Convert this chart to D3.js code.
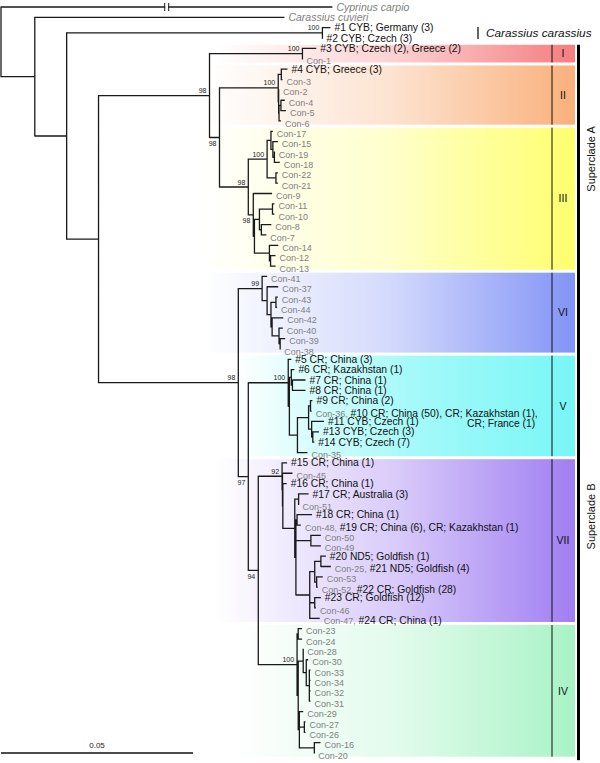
<!DOCTYPE html>
<html><head><meta charset="utf-8">
<script src="https://cdn.jsdelivr.net/npm/d3@7"></script>
<style>body{margin:0;background:#fff}svg{display:block;font-family:"Liberation Sans",Arial,Helvetica,sans-serif}</style>
</head><body><svg id="c" width="600" height="763"></svg>
<script>
// ---- tree data: [node, parent, branch length (subst./site)] ----
const outgroupEdges = [
  ["root", "", 0],
  ["Cyprinus carpio", "root", 0.0863],
  ["nA", "root", 0.0088],
  ["Carassius cuvieri", "nA", 0.065],
  ["nB", "nA", 0.0083],
  ["nCC", "nB", 0.0666],
  ["#1", "nCC", 0.0021],
  ["#2", "nCC", 0],
  ["nC", "nB", 0.0083],
  ["nD", "nC", 0.0289]
];
const cladeIEdges = [
  ["nI", "nD", 0.0242],
  ["#3", "nI", 0.0036],
  ["Con-1", "nI", 0]
];
const cladeIIEdges = [
  ["nF", "nD", 0.0026],
  ["nG", "nF", 0.0153],
  ["nG1", "nG", 0.0008],
  ["#4", "nG1", 0.0016],
  ["Con-3", "nG1", 0.0003],
  ["nGp", "nG", 0.0001],
  ["Con-2", "nGp", 0.0001],
  ["nGpp", "nGp", 0.0001],
  ["nG2", "nGpp", 0.0005],
  ["Con-4", "nG2", 0.001],
  ["Con-5", "nG2", 0.0013],
  ["Con-6", "nGpp", 0.0005]
];
const cladeIIIEdges = [
  ["nH", "nF", 0.0075],
  ["nP", "nH", 0.0049],
  ["nP1", "nP", 0.001],
  ["Con-17", "nP1", 0.0005],
  ["nP2", "nP1", 0.0005],
  ["Con-15", "nP2", 0.0013],
  ["nP2b", "nP2", 0.0004],
  ["Con-19", "nP2b", 0.0001],
  ["Con-18", "nP2b", 0.0014],
  ["nP3", "nP", 0.0023],
  ["Con-22", "nP3", 0.0005],
  ["Con-21", "nP3", 0.0005],
  ["nQ", "nH", 0.0013],
  ["Con-9", "nQ", 0.0049],
  ["nR", "nQ", 0.0003],
  ["nS", "nR", 0.0013],
  ["nS1", "nS", 0.0034],
  ["Con-11", "nS1", 0.0005],
  ["Con-10", "nS1", 0.0005],
  ["nS2", "nS", 0.0005],
  ["Con-8", "nS2", 0.0026],
  ["Con-7", "nS2", 0.0013],
  ["nT", "nR", 0.0039],
  ["Con-14", "nT", 0.0023],
  ["nT1", "nT", 0.0003],
  ["Con-12", "nT1", 0.0013],
  ["Con-13", "nT1", 0.0013]
];
const cladeVIEdges = [
  ["nU", "nC", 0.0364],
  ["nVI", "nU", 0.0062],
  ["Con-41", "nVI", 0.0013],
  ["nVIa", "nVI", 0.0013],
  ["Con-37", "nVIa", 0.0029],
  ["nVIb", "nVIa", 0.001],
  ["nVIc", "nVIb", 0.0013],
  ["Con-43", "nVIc", 0.0005],
  ["Con-44", "nVIc", 0.0003],
  ["nVId", "nVIb", 0.0003],
  ["Con-42", "nVId", 0.0029],
  ["nVIe", "nVId", 0.0018],
  ["Con-40", "nVIe", 0.001],
  ["nVIf", "nVIe", 0.0003],
  ["Con-39", "nVIf", 0.0013],
  ["Con-38", "nVIf", 0]
];
const cladeVEdges = [
  ["nW", "nU", 0.0026],
  ["nV", "nW", 0.0104],
  ["#5", "nV", 0.0008],
  ["nV2", "nV", 0.0003],
  ["nVa", "nV2", 0.0005],
  ["#6", "nVa", 0.0008],
  ["nVb", "nVa", 0.0003],
  ["#7", "nVb", 0.0034],
  ["#8", "nVb", 0.0034],
  ["nVc", "nV2", 0.0021],
  ["nVg", "nVc", 0.0029],
  ["nVd", "nVg", 0.0005],
  ["#9", "nVd", 0.0005],
  ["Con-36", "nVd", 0.0003],
  ["nVe", "nVg", 0.0008],
  ["#11", "nVe", 0.0032],
  ["nVf", "nVe", 0.0003],
  ["#13", "nVf", 0.0016],
  ["#14", "nVf", 0.0004],
  ["Con-35", "nVc", 0.0026]
];
const cladeVIIEdges = [
  ["nX", "nW", 0.0026],
  ["nVII", "nX", 0.0062],
  ["#15", "nVII", 0.0013],
  ["nY7", "nVII", 0.0001],
  ["Con-45", "nY7", 0.0026],
  ["nZ7", "nY7", 0.0001],
  ["#16", "nZ7", 0.001],
  ["nR7", "nZ7", 0.0031],
  ["nVIIc", "nR7", 0.001],
  ["#17", "nVIIc", 0.0026],
  ["Con-51", "nVIIc", 0],
  ["nVIId", "nR7", 0.0003],
  ["nVIIe", "nVIId", 0.0003],
  ["#18", "nVIIe", 0.0039],
  ["Con-48", "nVIIe", 0.001],
  ["nVIIg", "nVIId", 0.0039],
  ["Con-50", "nVIIg", 0.0026],
  ["Con-49", "nVIIg", 0.0026],
  ["nVIIk", "nVIId", 0.0036],
  ["nN1", "nVIIk", 0.0013],
  ["nN2", "nN1", 0.0016],
  ["#20", "nN2", 0.0013],
  ["Con-25", "nN2", 0.0026],
  ["nN3", "nN1", 0.0005],
  ["Con-53", "nN3", 0.0016],
  ["Con-52", "nN3", 0.0003],
  ["nVIIl", "nVIIk", 0.0013],
  ["#23", "nVIIl", 0.0016],
  ["Con-46", "nVIIl", 0.0003],
  ["Con-47", "nVIIk", 0.0026]
];
const cladeIVEdges = [
  ["nIV", "nX", 0.0101],
  ["nIVa", "nIV", 0.0003],
  ["Con-23", "nIVa", 0.001],
  ["Con-24", "nIVa", 0.001],
  ["nIVb", "nIV", 0.0003],
  ["nIVc", "nIVb", 0.0013],
  ["Con-28", "nIVc", 0],
  ["nIVe", "nIVc", 0.0008],
  ["Con-30", "nIVe", 0.0005],
  ["nIVf", "nIVe", 0.0008],
  ["Con-33", "nIVf", 0.0003],
  ["Con-34", "nIVf", 0.0003],
  ["Con-32", "nIVf", 0.0003],
  ["Con-31", "nIVf", 0.0003],
  ["nIVd", "nIVb", 0.0003],
  ["Con-29", "nIVd", 0.001],
  ["nIVg", "nIVd", 0.0013],
  ["Con-27", "nIVg", 0.0003],
  ["Con-26", "nIVg", 0.0003],
  ["nIVh", "nIVd", 0.0039],
  ["Con-16", "nIVh", 0.0016],
  ["Con-20", "nIVh", 0]
];

// bootstrap support
const supportNodes  = ["nCC","nI","nD","nG","nF","nP","nH","nQ","nVI","nU","nV","nW","nVII","nX","nIV"];
const supportValues = [100, 100, 98, 100, 98, 100, 98, 98, 99, 98, 100, 97, 92, 94, 100];

// haplotype labels (black text)
const haplotypeTips = ["#1","#2","#3","#4","#5","#6","#7","#8","#9","Con-36","#11","#13","#14",
  "#15","#16","#17","#18","Con-48","#20","Con-25","Con-52","#23","Con-47"];
const haplotypeText = ["#1 CYB; Germany (3)","#2 CYB; Czech (3)","#3 CYB; Czech (2), Greece (2)",
  "#4 CYB; Greece (3)","#5 CR; China (3)","#6 CR; Kazakhstan (1)","#7 CR; China (1)","#8 CR; China (1)",
  "#9 CR; China (2)","#10 CR; China (50), CR; Kazakhstan (1),","#11 CYB; Czech (1)","#13 CYB; Czech (3)",
  "#14 CYB; Czech (7)","#15 CR; China (1)","#16 CR; China (1)","#17 CR; Australia (3)","#18 CR; China (1)",
  "#19 CR; China (6), CR; Kazakhstan (1)","#20 ND5; Goldfish (1)","#21 ND5; Goldfish (4)",
  "#22 CR; Goldfish (28)","#23 CR; Goldfish (12)","#24 CR; China (1)"];
const continuedTip = ["Con-36"];
const continuedText = ["CR; France (1)"];
const outgroupTips = ["Cyprinus carpio","Carassius cuvieri"];

// clades
const cladeNames = ["I","II","III","VI","V","VII","IV"];
const cladeFirstTip = ["#3","#4","Con-17","Con-41","#5","#15","Con-23"];
const cladeLastTip  = ["Con-1","Con-6","Con-13","Con-38","Con-35","Con-47","Con-20"];
const supercladeNames = ["Superclade A","Superclade B"];
const supercladeFirst = ["#3","Con-41"];
const supercladeLast  = ["Con-13","Con-20"];
const speciesName = "Carassius carassius";
const speciesTips = ["#1","#2"];
const scaleBarValue = 0.05;

// ---- styles ----
const cladeColor = {I:"#f57d7f", II:"#f9b07b", III:"#ffff6e", VI:"#8294f6", V:"#78f6f6", VII:"#a07ef2", IV:"#a8f3c6"};
const cladeMidStop = {I:0.35, II:0.35, III:0.35, VI:0.35, V:0.65, VII:0.4, IV:0.35};
const bandLeft = {I:215, II:205, III:200, VI:205, V:235, VII:215, IV:230};
const bandRight = 575, midLineX = 552, romanX = 563;
const belowSupport = new Set(["nF","nQ","nW","nX"]);
const GRAY = "#808080";

const svg = d3.select("#c");
const edges = [].concat(outgroupEdges, cladeIEdges, cladeIIEdges, cladeIIIEdges,
  cladeVIEdges, cladeVEdges, cladeVIIEdges, cladeIVEdges);
const root = d3.stratify().id(d => d[0]).parentId(d => d[1] || null)(edges);
root.eachBefore(n => { n.dist = n.parent ? n.parent.dist + n.data[2] : 0; });
const leaves = root.leaves();
const xScale = d3.scaleLinear().domain([0, scaleBarValue]).range([1, 193]);
const yScale = d3.scalePoint().domain(leaves.map(d => d.id)).range([7, 753]);
const step = yScale.step();
root.eachAfter(n => {
  n.x = xScale(n.dist);
  n.y = n.children ? (n.children[0].y + n.children[n.children.length - 1].y) / 2 : yScale(n.id);
});
const byId = new Map(root.descendants().map(n => [n.id, n]));

// ---- gradient bands ----
const defs = svg.append("defs");
cladeNames.forEach((c, i) => {
  const g = defs.append("linearGradient").attr("id", "g" + i).attr("x1", 0).attr("x2", 1).attr("y1", 0).attr("y2", 0);
  g.append("stop").attr("offset", 0).attr("stop-color", cladeColor[c]).attr("stop-opacity", 0);
  g.append("stop").attr("offset", 0.5).attr("stop-color", cladeColor[c]).attr("stop-opacity", cladeMidStop[c]);
  g.append("stop").attr("offset", 1).attr("stop-color", cladeColor[c]).attr("stop-opacity", 1);
});
const bands = svg.append("g");
cladeNames.forEach((c, i) => {
  const top = yScale(cladeFirstTip[i]) - step / 2 + 1.5;
  const bot = yScale(cladeLastTip[i]) + step / 2 - 1.5;
  bands.append("rect").attr("x", bandLeft[c]).attr("y", top).attr("width", bandRight - bandLeft[c])
    .attr("height", bot - top).attr("fill", `url(#g${i})`);
  bands.append("line").attr("x1", midLineX).attr("x2", midLineX).attr("y1", top).attr("y2", bot)
    .attr("stroke", "#111").attr("stroke-width", 1);
  bands.append("text").attr("x", romanX).attr("y", (top + bot) / 2).attr("dy", "0.35em")
    .attr("text-anchor", "middle").attr("font-size", 10.5).attr("fill", "#111").text(c);
});
// superclade bars
supercladeNames.forEach((s, i) => {
  const top = yScale(supercladeFirst[i]) - step / 2 + 1.5;
  const bot = yScale(supercladeLast[i]) + step / 2 + 2;
  svg.append("rect").attr("x", 577).attr("y", top).attr("width", 3).attr("height", bot - top).attr("fill", "#000");
  const cy = (top + bot) / 2;
  svg.append("text").attr("transform", `translate(591,${cy}) rotate(-90)`).attr("dy", "0.35em")
    .attr("text-anchor", "middle").attr("font-size", 11).attr("fill", "#111").text(s);
});

// ---- branches ----
let d = "";
root.descendants().forEach(n => {
  if (n.parent) d += `M${n.parent.x},${n.y}H${n.x}`;
  if (n.children) d += `M${n.x},${n.children[0].y - 0.6}V${n.children[n.children.length - 1].y + 0.6}`;
});
svg.append("path").attr("d", d).attr("fill", "none").attr("stroke", "#1a1a1a").attr("stroke-width", 1.3);

// broken outgroup branch
const cyp = byId.get("Cyprinus carpio");
const bx = (root.x + cyp.x) / 2;
svg.append("rect").attr("x", bx - 1.5).attr("y", cyp.y - 3).attr("width", 3).attr("height", 6).attr("fill", "#fff");
[-2, 2].forEach(o => svg.append("line").attr("x1", bx + o).attr("x2", bx + o)
  .attr("y1", cyp.y - 4).attr("y2", cyp.y + 4).attr("stroke", "#1a1a1a").attr("stroke-width", 1));

// ---- tip labels ----
const hapMap = new Map(haplotypeTips.map((t, i) => [t, haplotypeText[i]]));
const labels = svg.append("g");
leaves.forEach(n => {
  const t = labels.append("text").attr("x", n.x + 4).attr("y", n.y).attr("dy", "0.35em");
  if (outgroupTips.includes(n.id)) {
    t.attr("font-size", 10.5).attr("font-style", "italic").attr("fill", GRAY).text(n.id);
  } else if (n.id.startsWith("#")) {
    t.attr("font-size", 10.3).attr("fill", "#111").text(hapMap.get(n.id));
  } else {
    t.append("tspan").attr("font-size", 9).attr("fill", GRAY).text(n.id + (hapMap.has(n.id) ? "," : ""));
    if (hapMap.has(n.id)) t.append("tspan").attr("font-size", 10.3).attr("fill", "#111").text(" " + hapMap.get(n.id));
  }
  const ci = continuedTip.indexOf(n.id);
  if (ci >= 0) {
    const bb = t.node().getBBox();
    labels.append("text").attr("x", bb.x + bb.width - 2.5).attr("y", n.y + step * 1.15).attr("dy", "0.35em")
      .attr("text-anchor", "end").attr("font-size", 10.3).attr("fill", "#111").text(continuedText[ci]);
  }
});

// species bar
{
  const y1 = yScale(speciesTips[0]), y2 = yScale(speciesTips[1]);
  const my = (y1 + y2) / 2;
  svg.append("line").attr("x1", 478).attr("x2", 478).attr("y1", my - 6).attr("y2", my + 6)
    .attr("stroke", "#111").attr("stroke-width", 1.3);
  svg.append("text").attr("x", 486).attr("y", my).attr("dy", "0.35em").attr("font-size", 11.8)
    .attr("font-style", "italic").attr("fill", "#111").text(speciesName);
}

// ---- bootstrap values ----
supportNodes.forEach((id, i) => {
  const n = byId.get(id);
  const below = belowSupport.has(id);
  svg.append("text").attr("x", n.x - 3).attr("y", below ? n.y + 8.5 : n.y - 2.5)
    .attr("text-anchor", "end").attr("font-size", 7).attr("fill", "#222").text(supportValues[i]);
});

// ---- scale bar ----
svg.append("line").attr("x1", xScale(0)).attr("x2", xScale(scaleBarValue)).attr("y1", 753).attr("y2", 753)
  .attr("stroke", "#111").attr("stroke-width", 1.3);
svg.append("text").attr("x", (xScale(0) + xScale(scaleBarValue)) / 2).attr("y", 748)
  .attr("text-anchor", "middle").attr("font-size", 8).attr("fill", "#222").text(scaleBarValue);
</script></body></html>
